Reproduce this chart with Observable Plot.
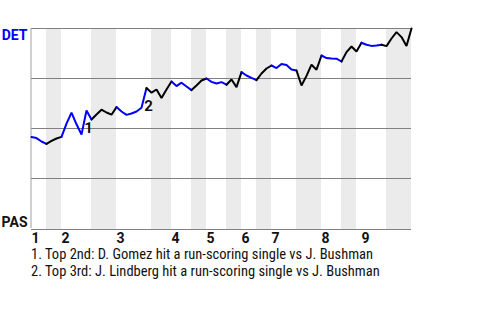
<!DOCTYPE html>
<html>
<head>
<meta charset="utf-8">
<script src="https://cdn.jsdelivr.net/npm/d3@7"></script>
<script src="https://cdn.jsdelivr.net/npm/@observablehq/plot@0.6"></script>
<style>
  html, body { margin: 0; padding: 0; background: #fff; }
  #chart svg { display: block; }
  #notes { font-family: Roboto, sans-serif; font-size: 14.5px; line-height: 17px; padding-left: 31px; color: #111; font-stretch: condensed; }
</style>
</head>
<body>
<div id="chart"></div>
<div id="notes"></div>
<script>
// Win probability for DET (percent) after each play, play 0 = first pitch
const winProb = [45.7, 45.2, 43.5, 42.3, 43.8, 45, 45.8, 52.4, 57.9, 52.1,
  47, 59, 54.5, 57, 59.4, 58, 56.9, 60.7, 58.5, 56.8,
  57.5, 58.5, 60.4, 70.2, 67.9, 69.5, 65.2, 69.5, 73.5, 71.2,
  72.9, 71, 69.2, 71.5, 74, 75, 73.3, 72.5, 73.2, 71.9,
  74.5, 70.7, 78.2, 76.5, 75.3, 74.2, 77.5, 80, 81.5, 80.2,
  82.3, 81.8, 79.5, 79, 71.5, 76.3, 81.9, 79.4, 86.5, 85.2,
  85, 84.9, 83.5, 88.2, 91, 88.5, 92.9, 91.9, 91.3, 91.5,
  91.9, 91.2, 95, 98.2, 95.7, 91.2, 100];

// Batting team runs of line segments: [team, number of plays]
const battingRuns = [["DET",3],["PAS",3],["DET",6],["PAS",5],["DET",6],["PAS",5],
  ["DET",4],["PAS",3],["DET",4],["PAS",3],["DET",3],["PAS",3],
  ["DET",5],["PAS",5],["DET",4],["PAS",4],["DET",4],["PAS",6]];

// Plays in each half-inning (shading: bottom halves shaded)
const halfInningPlays = [3,3,6,5,7,4,4,3,4,3,3,3,5,5,4,3,6,5];

// Inning labels and the play where each inning starts
const inningLabels = ["1","2","3","4","5","6","7","8","9"];
const inningStartPlay = [0, 6, 17, 28, 35, 42, 48, 58, 66];

// Annotated plays
const notePlays = [11, 23];
const noteLabels = ["1", "2"];
const noteTexts = [
  "1. Top 2nd: D. Gomez hit a run-scoring single vs J. Bushman",
  "2. Top 3rd: J. Lindberg hit a run-scoring single vs J. Bushman"
];

const teamAway = "DET", teamHome = "PAS";
const gridLevels = [25, 50, 75, 100];
const teamColor = {DET: "#0000ff", PAS: "#000000"};

// build line runs
const lineData = [];
let p = 0;
battingRuns.forEach(([team, n], k) => {
  for (let i = p; i <= p + n; i++) lineData.push({play: i, wp: winProb[i], run: k, team});
  p += n;
});

// build bottom-half bands
const bands = [];
let s = 0;
halfInningPlays.forEach((n, k) => {
  if (k % 2 === 1) bands.push({x1: s, x2: s + n});
  s += n;
});

const innings = inningLabels.map((label, i) => ({label, play: inningStartPlay[i]}));
const notes = notePlays.map((play, i) => ({play, wp: winProb[play], label: noteLabels[i]}));
const nPlays = winProb.length - 1;

const chart = Plot.plot({
  width: 480,
  height: 246,
  marginLeft: 31,
  marginRight: 69,
  marginTop: 28,
  marginBottom: 18,
  style: {fontFamily: "Roboto, sans-serif", background: "#fff"},
  x: {domain: [0, nPlays], axis: null},
  y: {domain: [0, 100], axis: null},
  marks: [
    Plot.rect(bands, {x1: "x1", x2: "x2", y1: 0, y2: 100, fill: "#ebebeb", insetBottom: -1}),
    Plot.ruleY(gridLevels, {stroke: "#808080", strokeWidth: 1}),
    Plot.ruleY([0], {stroke: "#808080", strokeWidth: 1, dy: 1}),
    Plot.ruleX([0], {stroke: "#a0a0a0", strokeWidth: 1, y1: 0, y2: 100, dx: -0.5}),
    Plot.line(lineData, {x: "play", y: "wp", z: "run", stroke: d => teamColor[d.team], strokeWidth: 2, strokeLinejoin: "miter"}),
    Plot.text(notes, {x: "play", y: "wp", text: "label", dx: 2, dy: 18, fontSize: 15, fontWeight: "bold", fill: "#111"}),
    Plot.text([teamAway], {frameAnchor: "top-left", text: d => d, dx: -4, dy: 2, textAnchor: "end", lineAnchor: "top", fontSize: 14, fontWeight: "bold", fill: teamColor.DET}),
    Plot.text([teamHome], {frameAnchor: "bottom-left", text: d => d, dx: -4, dy: -2, textAnchor: "end", lineAnchor: "bottom", fontSize: 14, fontWeight: "bold", fill: "#111"}),
    Plot.text(innings, {x: "play", frameAnchor: "bottom", text: "label", dy: 10, textAnchor: "start", lineAnchor: "middle", fontSize: 14, fontWeight: "bold", fill: "#111"})
  ]
});
document.getElementById("chart").append(chart);
const notesDiv = document.getElementById("notes");
noteTexts.forEach(t => { const d = document.createElement("div"); d.textContent = t; notesDiv.append(d); });
</script>
</body>
</html>
